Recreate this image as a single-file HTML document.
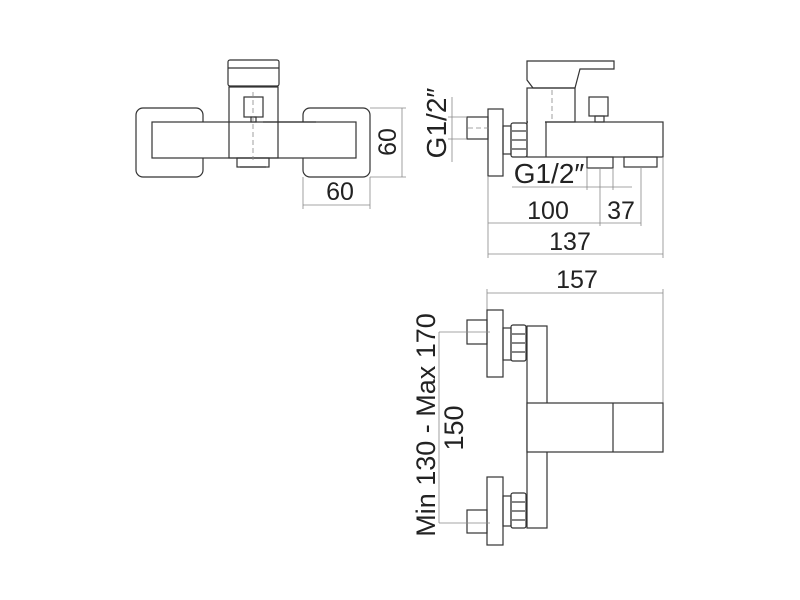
<!DOCTYPE html>
<html><head><style>
html,body{margin:0;padding:0;background:#fff;width:800px;height:600px;overflow:hidden}
svg{display:block}
text{font-family:"Liberation Sans",sans-serif;fill:#222;font-size:24px}
.o{fill:none;stroke:#333;stroke-width:1.2}
.d{fill:none;stroke:#888;stroke-width:0.8}
</style></head><body>
<svg width="800" height="600" viewBox="0 0 800 600">
<!-- Left view -->
<rect class="o" x="136" y="108" width="67" height="69" rx="7"/>
<rect class="o" x="303" y="108" width="67" height="69" rx="7"/>
<rect x="152" y="122" width="204" height="36" fill="#fff" stroke="#333" stroke-width="1.2"/>
<rect class="o" x="229" y="87" width="49" height="71"/>
<rect class="o" x="228" y="60" width="51" height="26" rx="2"/>
<line class="o" x1="228" y1="68" x2="279" y2="68"/>
<rect class="o" x="244" y="97" width="19" height="20"/>
<rect class="o" x="251" y="117" width="5" height="5"/>
<line class="o" x1="263" y1="122" x2="316" y2="122" stroke-width="2"/>
<rect class="o" x="237" y="158" width="32" height="9"/>
<line class="o" x1="240" y1="167" x2="266" y2="167" stroke-width="2"/>
<line class="d" x1="253" y1="92" x2="253" y2="160" stroke-dasharray="5,3"/>
<!-- 60 dims -->
<line class="d" x1="370" y1="108" x2="406" y2="108"/>
<line class="d" x1="370" y1="177" x2="406" y2="177"/>
<line class="d" x1="402" y1="108" x2="402" y2="177"/>
<text transform="translate(396,142) rotate(-90)" text-anchor="middle" style="font-size:25px">60</text>
<line class="d" x1="303" y1="177" x2="303" y2="209"/>
<line class="d" x1="370" y1="177" x2="370" y2="209"/>
<line class="d" x1="303" y1="205" x2="370" y2="205"/>
<text x="340" y="200" text-anchor="middle" style="font-size:25px">60</text>

<!-- Right top view -->
<polygon class="o" points="527,61 614,61 614,69 580,69 575,88 533,88 527,80"/>
<rect class="o" x="527" y="88" width="48" height="34"/>
<rect class="o" x="527" y="122" width="136" height="35"/>
<line class="o" x1="546" y1="122" x2="546" y2="157"/>
<rect fill="#fff" stroke="none" x="528" y="121" width="17" height="2"/>
<line class="d" x1="552" y1="90" x2="552" y2="122" stroke-dasharray="5,3"/>
<rect class="o" x="511" y="123" width="16" height="34" rx="2"/>
<line class="o" x1="512" y1="131" x2="526" y2="131"/>
<line class="o" x1="512" y1="140" x2="526" y2="140"/>
<line class="o" x1="512" y1="149" x2="526" y2="149"/>
<rect class="o" x="503" y="126" width="8" height="28"/>
<rect class="o" x="488" y="109" width="15" height="67"/>
<rect class="o" x="467" y="117" width="21" height="22"/>
<line class="d" x1="468" y1="128" x2="490" y2="128" stroke-dasharray="5,3"/>
<rect class="o" x="589" y="97" width="19" height="19"/>
<rect class="o" x="595" y="116" width="9" height="6"/>
<rect class="o" x="587" y="157" width="26" height="11"/>
<rect class="o" x="624" y="157" width="33" height="10"/>
<!-- G1/2 vertical -->
<line class="d" x1="448" y1="117" x2="467" y2="117"/>
<line class="d" x1="448" y1="139" x2="467" y2="139"/>
<line class="d" x1="452" y1="97" x2="452" y2="162"/>
<text transform="translate(446,123) rotate(-90)" text-anchor="middle" style="font-size:28px">G1/2″</text>
<!-- G1/2 horizontal -->
<text x="549" y="183" text-anchor="middle" style="font-size:28px">G1/2″</text>
<line class="d" x1="512" y1="187" x2="632" y2="187"/>
<line class="d" x1="587" y1="168" x2="587" y2="190"/>
<line class="d" x1="613" y1="168" x2="613" y2="190"/>
<!-- 100/37/137 -->
<line class="d" x1="488" y1="176" x2="488" y2="258"/>
<line class="d" x1="600" y1="168" x2="600" y2="226"/>
<line class="d" x1="641" y1="167" x2="641" y2="226"/>
<line class="d" x1="663" y1="157" x2="663" y2="258"/>
<line class="d" x1="488" y1="223" x2="641" y2="223"/>
<text x="548" y="219" text-anchor="middle" style="font-size:25px">100</text>
<text x="621" y="219" text-anchor="middle" style="font-size:25px">37</text>
<line class="d" x1="488" y1="254" x2="663" y2="254"/>
<text x="570" y="250" text-anchor="middle" style="font-size:25px">137</text>

<!-- Bottom view -->
<text x="577" y="288" text-anchor="middle" style="font-size:25px">157</text>
<line class="d" x1="487" y1="293" x2="663" y2="293"/>
<line class="d" x1="487" y1="289" x2="487" y2="310"/>
<line class="d" x1="663" y1="289" x2="663" y2="403"/>
<rect class="o" x="527" y="326" width="20" height="202"/>
<rect x="527" y="403" width="136" height="49" fill="#fff" stroke="#333" stroke-width="1.2"/>
<line class="o" x1="613" y1="403" x2="613" y2="452"/>
<!-- top inlet -->
<rect class="o" x="487" y="310" width="16" height="67"/>
<rect class="o" x="467" y="320" width="20" height="24"/>
<rect class="o" x="503" y="328" width="8" height="32"/>
<rect class="o" x="511" y="325" width="15" height="36" rx="2"/>
<line class="o" x1="512" y1="334" x2="525" y2="334"/>
<line class="o" x1="512" y1="343" x2="525" y2="343"/>
<line class="o" x1="512" y1="352" x2="525" y2="352"/>
<line class="d" x1="439" y1="332" x2="490" y2="332"/>
<!-- bottom inlet -->
<rect class="o" x="487" y="477" width="16" height="68"/>
<rect class="o" x="467" y="510" width="20" height="23"/>
<rect class="o" x="503" y="496" width="8" height="30"/>
<rect class="o" x="511" y="493" width="15" height="35" rx="2"/>
<line class="o" x1="512" y1="502" x2="525" y2="502"/>
<line class="o" x1="512" y1="511" x2="525" y2="511"/>
<line class="o" x1="512" y1="520" x2="525" y2="520"/>
<line class="d" x1="439" y1="523" x2="490" y2="523"/>
<line class="d" x1="439" y1="332" x2="439" y2="523"/>
<text transform="translate(463,428) rotate(-90)" text-anchor="middle" style="font-size:27px">150</text>
<text transform="translate(435,425) rotate(-90)" text-anchor="middle" style="font-size:27px">Min 130 - Max 170</text>
</svg>
</body></html>
